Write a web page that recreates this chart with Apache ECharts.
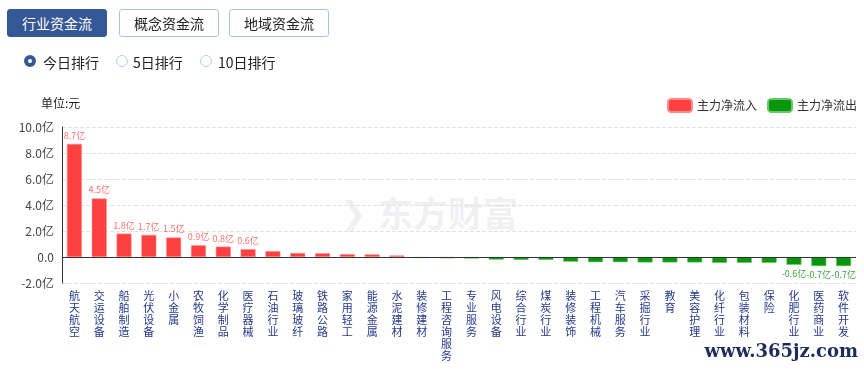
<!DOCTYPE html>
<html><head><meta charset="utf-8">
<script src="https://cdn.jsdelivr.net/npm/echarts@6/dist/echarts.min.js"></script>
<style>
html,body{margin:0;padding:0;background:#fff;width:864px;height:370px;overflow:hidden;font-family:"Microsoft YaHei","Noto Sans CJK SC",sans-serif;}
#chart{position:absolute;left:0;top:0;width:864px;height:370px;}
.tab{position:absolute;top:9px;height:28px;width:100px;box-sizing:border-box;border:1px solid #a9c5e2;border-radius:3px;font-size:14px;line-height:26px;text-align:center;color:#222;background:#fff;z-index:2;}
.tab.on{background:#345896;border-color:#345896;color:#fff;}
.radio{position:absolute;top:55px;height:14px;font-size:14px;line-height:14px;color:#222;z-index:2;}
.radio i{position:absolute;left:0;top:0;width:12px;height:12px;border:1px solid #b7cde4;border-radius:50%;box-sizing:border-box;}
.radio.on i{border:4px solid #345896;}
.radio span{position:absolute;top:0;white-space:nowrap;}
</style></head>
<body>
<div class="tab on" style="left:7px">行业资金流</div>
<div class="tab" style="left:119px">概念资金流</div>
<div class="tab" style="left:229px">地域资金流</div>
<div class="radio on" style="left:24px"><i></i><span style="left:19px">今日排行</span></div>
<div class="radio" style="left:116px"><i></i><span style="left:17px">5日排行</span></div>
<div class="radio" style="left:200px"><i></i><span style="left:18px">10日排行</span></div>
<div id="chart"></div>
<script>
var categories = ['航天航空','交运设备','船舶制造','光伏设备','小金属','农牧饲渔','化学制品','医疗器械','石油行业','玻璃玻纤','铁路公路','家用轻工','能源金属','水泥建材','装修建材','工程咨询服务','专业服务','风电设备','综合行业','煤炭行业','装修装饰','工程机械','汽车服务','采掘行业','教育','美容护理','化纤行业','包装材料','保险','化肥行业','医药商业','软件开发'];
var values = [8.7,4.5,1.8,1.7,1.5,0.9,0.8,0.6,0.45,0.31,0.29,0.22,0.2,0.12,-0.08,-0.1,-0.12,-0.2,-0.22,-0.22,-0.36,-0.4,-0.4,-0.42,-0.42,-0.42,-0.45,-0.45,-0.45,-0.6,-0.7,-0.7];
var yTicks = [-2,0,2,4,6,8,10];
var labelThreshold = 0.55;

var inflow = values.map(function(v){return v>0?v:'-';});
var outflow = values.map(function(v){return v<0?v:'-';});
var chart = echarts.init(document.getElementById('chart'));
function fmt(p){return Math.abs(p.value)>=labelThreshold ? p.value.toFixed(1)+'亿' : '';}
chart.setOption({
  animation:false,
  textStyle:{fontFamily:'"Microsoft YaHei","Noto Sans CJK SC",sans-serif'},
  title:{text:'单位:元',left:36,top:92,textStyle:{fontSize:12,fontWeight:'normal',color:'#222'}},
  legend:{right:2,top:93,itemWidth:24,itemHeight:13,itemGap:10,icon:'roundRect',
    textStyle:{fontSize:12,color:'#333'},data:['主力净流入','主力净流出']},
  grid:{left:62,right:8,top:127,bottom:87},
  xAxis:{type:'category',data:categories,
    axisLine:{onZero:false,show:false},axisTick:{show:false},
    axisLabel:{interval:0,margin:7,color:'#23398a',fontSize:11,lineHeight:12,
      formatter:function(v){return v.split('').join('\n');}}},
  yAxis:{type:'value',min:yTicks[0],max:yTicks[yTicks.length-1],interval:2,
    axisLine:{show:true,lineStyle:{color:'#333'}},axisTick:{show:false},
    axisLabel:{color:'#444',fontSize:12,margin:8,formatter:function(v){return v===0?'0.0':v.toFixed(1)+'亿';}},
    splitLine:{lineStyle:{color:'#e2e2e2',type:'dashed'}}},
  graphic:[
    {type:'text',left:378,top:196,z:0,style:{text:'东方财富',font:'bold 35px "Noto Sans CJK SC"',fill:'#f0f0f3'}},
    {type:'text',left:340,top:200,z:0,style:{text:'❯',font:'bold 32px "DejaVu Sans"',fill:'#f0f0f3'}},
    {type:'text',right:6,top:343,z:10,style:{text:'www.365jz.com',font:'bold 18px "DejaVu Serif"',fill:'#1c2c5c'}}
  ],
  series:[
    {name:'主力净流入',type:'bar',stack:'a',data:inflow,barWidth:15,
      itemStyle:{color:'#ff4040',borderColor:'#ff8a8a',borderWidth:0.6},
      label:{show:true,position:'top',distance:4,fontSize:9,color:'#ff7070',formatter:fmt},
      markLine:{silent:true,symbol:'none',label:{show:false},lineStyle:{color:'#333',type:'solid',width:1},data:[{yAxis:0}]}},
    {name:'主力净流出',type:'bar',stack:'a',data:outflow,barWidth:15,
      itemStyle:{color:'#0a960a',borderColor:'#6cc46c',borderWidth:0.6},
      label:{show:true,position:'bottom',distance:4,fontSize:9,color:'#3aa33a',formatter:fmt}}
  ]
});
</script>
</body></html>
